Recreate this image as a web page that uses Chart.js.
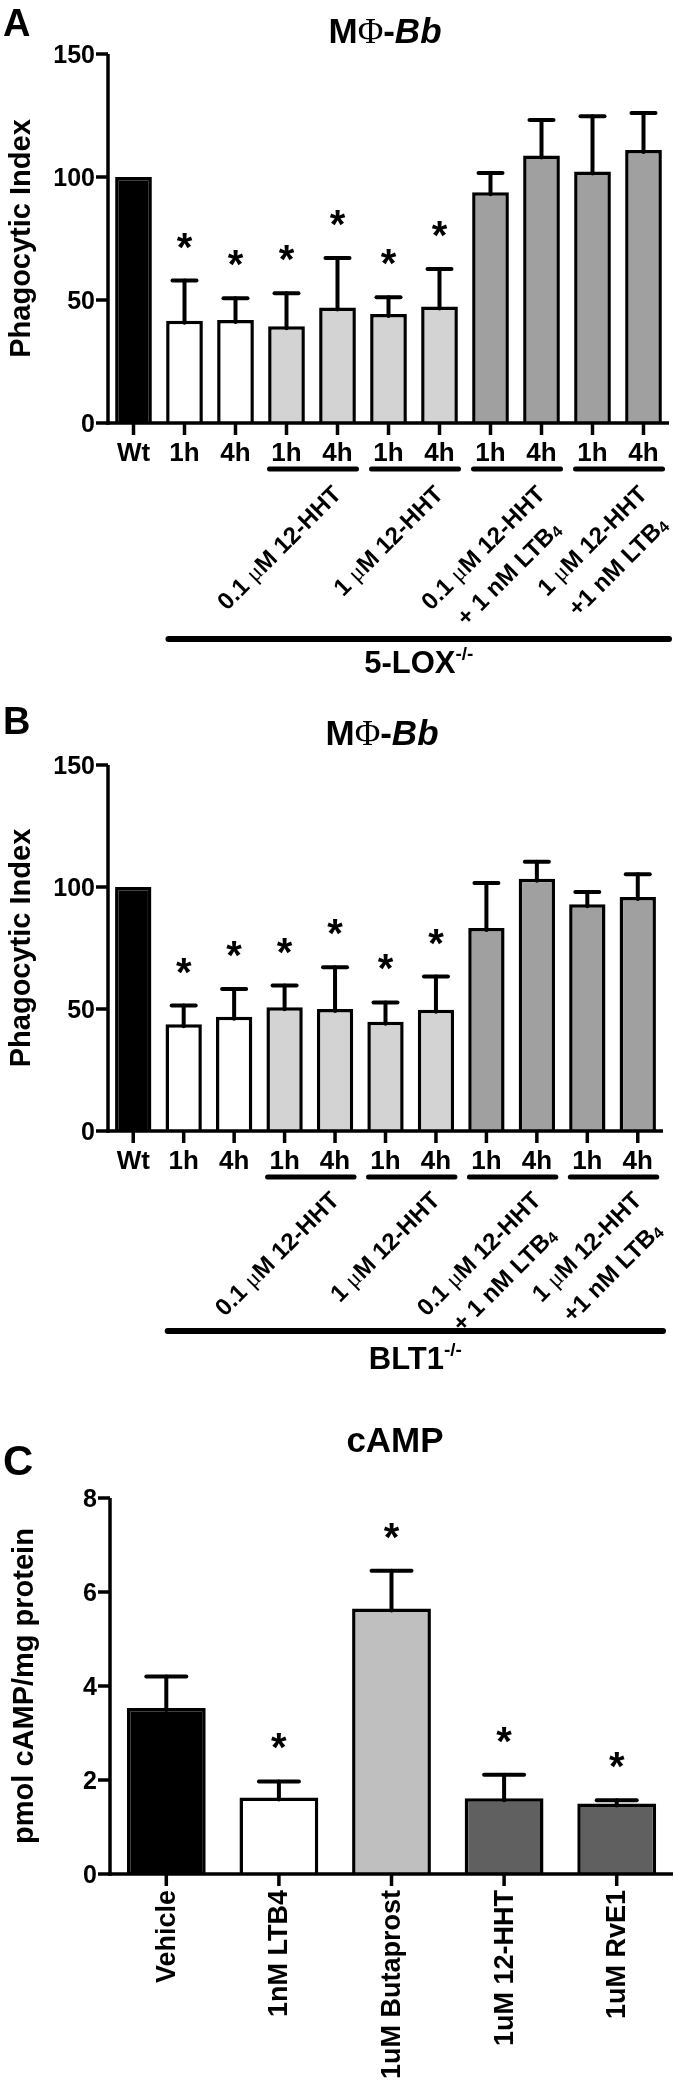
<!DOCTYPE html>
<html lang="en">
<head>
<meta charset="UTF-8">
<title>Phagocytic index and cAMP</title>
<script src="https://cdn.jsdelivr.net/npm/chart.js"></script>
<style>
  body { margin: 0; background: #fff; }
  .panel { position: absolute; left: 0; }
</style>
</head>
<body>
<div class="panel" style="top:0px"><canvas id="chartA" width="674" height="700"></canvas></div>
<div class="panel" style="top:700px"><canvas id="chartB" width="674" height="690"></canvas></div>
<div class="panel" style="top:1390px"><canvas id="chartC" width="674" height="702"></canvas></div>

<script>
// Panels A and B: phagocytic index, Wt vs knockout, 1h / 4h treatments
const TIMES = ['Wt', '1h', '4h', '1h', '4h', '1h', '4h', '1h', '4h', '1h', '4h'];
const PHAGO_TICKS = [0, 50, 100, 150];

const LOX_MEAN = [100, 41.6, 41.9, 39.3, 47.0, 44.3, 47.4, 93.8, 108.7, 102.2, 111.0];
const LOX_SEM  = [0, 16.3, 8.8, 13.4, 20.1, 6.8, 15.2, 7.8, 14.5, 22.5, 15.0];
const LOX_SIG  = [false, true, true, true, true, true, true, false, false, false, false];

const BLT_MEAN = [100, 43.8, 46.8, 50.7, 50.0, 44.8, 49.7, 83.2, 103.4, 92.9, 95.9];
const BLT_SEM  = [0, 7.6, 11.4, 8.9, 17.1, 7.9, 13.6, 18.4, 6.9, 5.0, 9.3];
const BLT_SIG  = [false, true, true, true, true, true, true, false, false, false, false];

// treatment groups under the 1h/4h pairs (first index of each pair)
const TREAT_LABELS = [['0.1 μM 12-HHT'], ['1 μM 12-HHT'], ['0.1 μM 12-HHT', '+ 1 nM LTB_4'], ['1 μM 12-HHT', '+1 nM LTB_4']];
const TREAT_FIRST = [3, 5, 7, 9];

// Panel C: cAMP
const CAMP_LABELS = ['Vehicle', '1nM LTB4', '1uM Butaprost', '1uM 12-HHT', '1uM RvE1'];
const CAMP_MEAN = [3.53, 1.63, 5.65, 1.61, 1.50];
const CAMP_SEM  = [0.67, 0.34, 0.80, 0.50, 0.07];
const CAMP_SIG  = [false, true, true, true, true];
const CAMP_TICKS = [0, 2, 4, 6, 8];

// colours
const PHAGO_FILL = ['#000000', '#ffffff', '#ffffff', '#d3d3d3', '#d3d3d3', '#d3d3d3', '#d3d3d3',
                    '#a0a0a0', '#a0a0a0', '#a0a0a0', '#a0a0a0'];
const CAMP_FILL = ['#000000', '#ffffff', '#bfbfbf', '#606060', '#606060'];

const SANS = '"Liberation Sans", Arial, Helvetica, sans-serif';
const SERIF = '"Liberation Serif", "Times New Roman", serif';

function line(ctx, x1, y1, x2, y2) {
    ctx.beginPath();
    ctx.moveTo(x1, y1);
    ctx.lineTo(x2, y2);
    ctx.stroke();
}

// split a label into font runs: greek letters in serif, ~ toggles italic,
// _x is a subscript char, ^rest is superscript
function runs(str, px) {
    const out = [];
    let italic = false, i = 0;
    while (i < str.length) {
        const c = str[i];
        if (c === '~') { italic = !italic; i++; continue; }
        if (c === 'μ' || c === 'Φ') { out.push({ text: c, font: px + 'px ' + SERIF }); i++; continue; }
        if (c === '_') {
            out.push({ text: str[i + 1], font: 'bold ' + Math.round(px * 0.65) + 'px ' + SANS, dy: px * 0.18 });
            i += 2; continue;
        }
        if (c === '^') {
            out.push({ text: str.slice(i + 1), font: 'bold ' + Math.round(px * 0.6) + 'px ' + SANS, dy: -px * 0.42 });
            break;
        }
        let j = i;
        while (j < str.length && !'~μΦ_^'.includes(str[j])) j++;
        out.push({ text: str.slice(i, j), font: (italic ? 'italic ' : '') + 'bold ' + px + 'px ' + SANS });
        i = j;
    }
    return out;
}

function width(ctx, str, px) {
    let w = 0;
    runs(str, px).forEach(p => { ctx.font = p.font; w += ctx.measureText(p.text).width; });
    return w;
}

function text(ctx, str, px, x, y, o = {}) {
    const parts = runs(str, px);
    ctx.save();
    ctx.translate(x, y);
    if (o.rot) ctx.rotate(o.rot);
    ctx.textAlign = 'left';
    ctx.textBaseline = o.base || 'alphabetic';
    const w = width(ctx, str, px);
    let cx = o.align === 'right' ? -w : o.align === 'center' ? -w / 2 : 0;
    parts.forEach(p => {
        ctx.font = p.font;
        ctx.fillText(p.text, cx, (p.dy || 0) + (o.dy || 0));
        cx += ctx.measureText(p.text).width;
    });
    ctx.restore();
}

// axes, ticks, error bars, stars and all the text
function makeDecor(p) {
    return {
        id: 'decor',
        afterDatasetsDraw(chart) {
            const ctx = chart.ctx;
            const xs = chart.scales.x, ys = chart.scales.y;
            const a = chart.chartArea;
            const bars = chart.getDatasetMeta(0).data;
            const yTop = ys.getPixelForValue(p.yTicks[p.yTicks.length - 1]);
            ctx.save();
            ctx.fillStyle = '#000';
            ctx.strokeStyle = '#000';

            // error bars + significance stars
            ctx.lineWidth = 4;
            ctx.lineCap = 'round';
            p.mean.forEach((m, i) => {
                const bx = bars[i].x;
                const top = ys.getPixelForValue(m + p.sem[i]);
                if (p.sem[i] > 0) {
                    line(ctx, bx, ys.getPixelForValue(m) + 2, bx, top);
                    line(ctx, bx - p.cap / 2, top, bx + p.cap / 2, top);
                }
                if (p.sig[i]) text(ctx, '*', 40, bx, top - 20, { align: 'center' });
            });

            // axis lines
            ctx.lineWidth = 3.5;
            ctx.lineCap = 'butt';
            line(ctx, a.left, yTop, a.left, a.bottom + 1.75);
            line(ctx, a.left - 1.75, a.bottom, a.right, a.bottom);

            // y ticks
            p.yTicks.forEach(v => {
                const py = ys.getPixelForValue(v);
                line(ctx, a.left - 12, py, a.left, py);
                text(ctx, String(v), 25, a.left - 13, py + 9, { align: 'right' });
            });

            // x ticks
            p.labels.forEach((lab, i) => {
                const px = xs.getPixelForValue(i);
                line(ctx, px, a.bottom, px, a.bottom + 12);
                if (p.rotLabels) {
                    text(ctx, lab, 27, px + 1, a.bottom + 16, { rot: -Math.PI / 2, align: 'right', base: 'middle' });
                } else {
                    text(ctx, lab, 26, px, a.bottom + 38, { align: 'center' });
                }
            });

            // treatment groups
            if (p.groups) {
                ctx.lineWidth = 5;
                ctx.lineCap = 'round';
                const d = Math.SQRT1_2;
                p.groups.forEach((g, k) => {
                    const x1 = xs.getPixelForValue(p.groupFirst[k]);
                    const x2 = xs.getPixelForValue(p.groupFirst[k] + 1);
                    line(ctx, x1 - 17, a.bottom + p.underY, x2 + 19, a.bottom + p.underY);
                    // first line ends up-right near the pair, further lines centred under it
                    const half = width(ctx, g[0], 24) / 2;
                    const cx = (x1 + x2) / 2 + 26 - half * d;
                    const cy = a.bottom + p.groupY + half * d;
                    g.forEach((s, j) => {
                        text(ctx, s, 24, cx, cy, { rot: -Math.PI / 4, align: 'center', base: 'middle', dy: j * 36 });
                    });
                });
                // knockout bar
                ctx.lineWidth = 6;
                const bx1 = xs.getPixelForValue(1) - 16;
                line(ctx, bx1, a.bottom + p.koY, a.right, a.bottom + p.koY);
                text(ctx, p.ko, 31, (bx1 + a.right) / 2, a.bottom + p.koY + p.koGap, { align: 'center' });
            }

            // titles
            text(ctx, p.title, 35, p.titleX, p.titleY, { align: 'center' });
            text(ctx, p.letter, p.letterPx, 3, p.letterY);
            text(ctx, p.yTitle, p.yTitlePx, p.yTitleX, (yTop + a.bottom) / 2, { rot: -Math.PI / 2, align: 'center', base: 'middle' });
            ctx.restore();
        }
    };
}

function makePanel(id, p) {
    return new Chart(document.getElementById(id), {
        type: 'bar',
        data: {
            labels: p.labels,
            datasets: [{
                data: p.mean,
                backgroundColor: p.fill,
                borderColor: '#000',
                borderWidth: 3.5,
                barPercentage: p.barPct,
                categoryPercentage: 1
            }]
        },
        options: {
            responsive: false,
            animation: false,
            layout: { padding: p.pad },
            plugins: { legend: { display: false }, tooltip: { enabled: false } },
            scales: {
                x: { display: false },
                y: { display: false, min: 0, max: p.yTicks[p.yTicks.length - 1] }
            }
        },
        plugins: [makeDecor(p)]
    });
}

makePanel('chartA', {
    labels: TIMES, mean: LOX_MEAN, sem: LOX_SEM, sig: LOX_SIG, fill: PHAGO_FILL,
    yTicks: PHAGO_TICKS, barPct: 0.72, cap: 24,
    pad: { left: 108, right: 5, top: 54, bottom: 277 },
    groups: TREAT_LABELS, groupFirst: TREAT_FIRST,
    underY: 46, groupY: 68, koY: 216, koGap: 34, ko: '5-LOX^-/-',
    title: 'MΦ-~Bb', titleX: 385, titleY: 43,
    letter: 'A', letterPx: 38, letterY: 36,
    yTitle: 'Phagocytic Index', yTitlePx: 29, yTitleX: 22
});

makePanel('chartB', {
    labels: TIMES, mean: BLT_MEAN, sem: BLT_SEM, sig: BLT_SIG, fill: PHAGO_FILL,
    yTicks: PHAGO_TICKS, barPct: 0.72, cap: 24,
    pad: { left: 108, right: 11, top: 65, bottom: 259 },
    groups: TREAT_LABELS, groupFirst: TREAT_FIRST,
    underY: 46, groupY: 66, koY: 200, koGap: 38, ko: 'BLT1^-/-',
    title: 'MΦ-~Bb', titleX: 382, titleY: 45,
    letter: 'B', letterPx: 38, letterY: 34,
    yTitle: 'Phagocytic Index', yTitlePx: 29, yTitleX: 22
});

makePanel('chartC', {
    labels: CAMP_LABELS, mean: CAMP_MEAN, sem: CAMP_SEM, sig: CAMP_SIG, fill: CAMP_FILL,
    yTicks: CAMP_TICKS, barPct: 0.70, cap: 40, rotLabels: true,
    pad: { left: 110, right: 1, top: 108, bottom: 218 },
    title: 'cAMP', titleX: 395, titleY: 62,
    letter: 'C', letterPx: 42, letterY: 85,
    yTitle: 'pmol cAMP/mg protein', yTitlePx: 29, yTitleX: 25
});
</script>
</body>
</html>
